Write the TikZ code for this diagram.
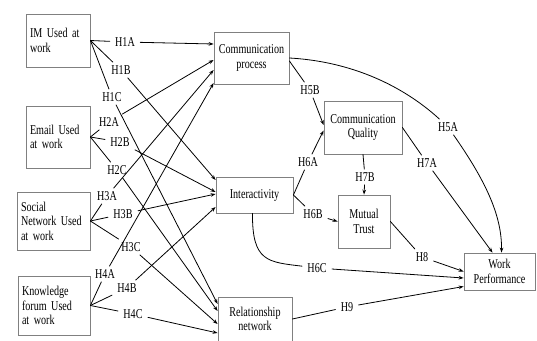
\documentclass[tikz,border=0pt]{standalone}
\usepackage{fontspec}
\setmainfont[FakeStretch=0.75]{Liberation Serif}
\usetikzlibrary{arrows.meta,positioning}

\begin{document}
\begin{tikzpicture}[x=1pt,y=-1pt,>={Stealth[length=5pt,width=3.6pt]},
  line width=.8pt,line cap=round,
  every node/.style={font=\fontsize{13.5}{14.5}\selectfont},
  srcbox/.style={draw=black!50,line width=.8pt,align=left,
   inner xsep=4pt,inner ysep=0pt},
  outbox/.style={draw=black!50,line width=.8pt,align=center,
   inner sep=0pt},
  hyp/.style={inner xsep=5pt,inner ysep=3pt}]
 \useasboundingbox (0,0) rectangle (537,340);
 % usage of the four tools
 \node[srcbox,text width=56pt,minimum height=53pt] (im) at (58,40.5)
  {IM Used at\\work};
 \node[srcbox,text width=56pt,minimum height=62pt] (email) at (58,137)
  {Email Used\\at work};
 \node[srcbox,text width=65pt,minimum height=58pt] (social) at (53.5,221)
  {Social\\Network Used\\at work};
 \node[srcbox,text width=64pt,minimum height=59pt] (know) at (54,305.5)
  {Knowledge\\forum Used\\at work};
 % mediators and outcome
 \node[outbox,minimum width=75pt,minimum height=52pt] (cp) at (251.5,58)
  {Communication\\process};
 \node[outbox,minimum width=77pt,minimum height=36pt] (inter) at (254.5,195)
  {Interactivity};
 \node[outbox,minimum width=74pt,minimum height=44pt] (rel) at (255,319)
  {Relationship\\network};
 \node[outbox,minimum width=78pt,minimum height=53pt] (cq) at (363,127.5)
  {Communication\\Quality};
 \node[outbox,minimum width=52pt,minimum height=53pt] (mt) at (364,221.5)
  {Mutual\\Trust};
 \node[outbox,minimum width=71pt,minimum height=37pt] (wp) at (499.5,271.5)
  {Work\\Performance};
 % hypothesis labels
 \node[hyp] (h1a) at (125,42) {H1A};
 \node[hyp] (h1b) at (121,70) {H1B};
 \node[hyp] (h1c) at (112,97) {H1C};
 \node[hyp] (h2a) at (109,122) {H2A};
 \node[hyp] (h2b) at (120,142) {H2B};
 \node[hyp] (h2c) at (117,170) {H2C};
 \node[hyp] (h3a) at (107,196) {H3A};
 \node[hyp] (h3b) at (123,214) {H3B};
 \node[hyp] (h3c) at (131,247) {H3C};
 \node[hyp] (h4a) at (105,274) {H4A};
 \node[hyp] (h4b) at (127,288) {H4B};
 \node[hyp] (h4c) at (133,314) {H4C};
 \node[hyp] (h5a) at (448,127) {H5A};
 \node[hyp] (h5b) at (310,90) {H5B};
 \node[hyp] (h6a) at (308,162) {H6A};
 \node[hyp] (h6b) at (313,214) {H6B};
 \node[hyp] (h6c) at (317,268) {H6C};
 \node[hyp] (h7a) at (427,163) {H7A};
 \node[hyp] (h7b) at (365,177) {H7B};
 \node[hyp] (h8) at (422,257) {H8};
 \node[hyp] (h9) at (347,307) {H9};
 % IM
 \draw (im.east) -- (h1a);
 \draw[->] (h1a) -- ([yshift=14pt]cp.west);
 \draw (im.east) -- (h1b);
 \draw[->] (h1b) -- ([yshift=15pt]inter.west);
 \draw (im.east) -- (h1c);
 \draw[->] (h1c) -- ([yshift=15pt]rel.west);
 % Email
 \draw (email.east) -- (h2a);
 \draw[->] (h2a) -- ([yshift=-2pt]cp.west);
 \draw (email.east) -- (h2b);
 \draw[->] (h2b) -- ([yshift=3pt]inter.west);
 \draw (email.east) -- (h2c);
 \draw[->] (h2c) -- ([yshift=8pt]rel.west);
 % Social network
 \draw (social.east) -- (h3a);
 \draw[->] (h3a) -- ([yshift=-12pt]cp.west);
 \draw (social.east) -- (h3b);
 \draw[->] (h3b) -- ([yshift=1pt]inter.west);
 \draw (social.east) -- (h3c);
 \draw[->] (h3c) -- ([yshift=-5pt]rel.west);
 % Knowledge forum
 \draw (know.east) -- (h4a);
 \draw[->] (h4a) -- ([yshift=-25pt]cp.west);
 \draw (know.east) -- (h4b);
 \draw[->] (h4b) -- ([yshift=-12pt]inter.west);
 \draw (know.east) -- (h4c);
 \draw[->] (h4c) -- ([yshift=-14pt]rel.west);
 % right part
 \draw (cp.east) .. controls (360,62) and (410,92) .. (h5a);
 \draw[->] (h5a) .. controls (485,180) and (502,215) .. ([xshift=2pt]wp.north);
 \draw ([yshift=-3pt]cp.east) -- (h5b);
 \draw[->] (h5b) -- ([yshift=2.5pt]cq.west);
 \draw (inter.east) -- (h6a);
 \draw[->] (h6a) -- ([yshift=-3pt]cq.west);
 \draw (inter.east) -- (h6b);
 \draw[->] (h6b) -- (mt.west);
 \draw ([xshift=-2pt]inter.south) .. controls (252,262) and (268,262) .. (h6c);
 \draw[->] (h6c) -- ([yshift=-6.5pt]wp.west);
 \draw (cq.south) -- (h7b);
 \draw[->] (h7b) -- (mt.north);
 \draw (cq.east) -- (h7a);
 \draw[->] (h7a) -- ([xshift=-7pt]wp.north);
 \draw (mt.east) -- (h8);
 \draw[->] (h8) -- (wp.west);
 \draw (rel.east) -- (h9);
 \draw[->] (h9) -- ([yshift=-15pt]wp.west);
\end{tikzpicture}
\end{document}
